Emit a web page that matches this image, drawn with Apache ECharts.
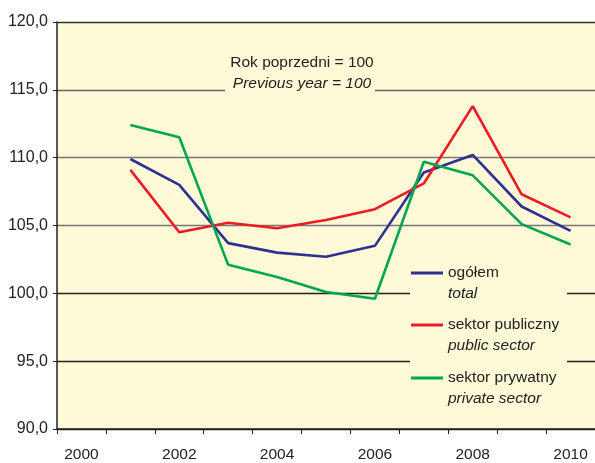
<!DOCTYPE html>
<html>
<head>
<meta charset="utf-8">
<script src="https://cdn.jsdelivr.net/npm/echarts@6/dist/echarts.min.js"></script>
<style>
  html, body { margin: 0; padding: 0; background: #ffffff; }
  #chart { width: 595px; height: 463px; }
</style>
</head>
<body>
<div id="chart"></div>
<script>
// Dynamika: rok poprzedni = 100
const years = ['2000', '2001', '2002', '2003', '2004', '2005', '2006', '2007', '2008', '2009', '2010'];
const total   = [null, 109.9, 108.0, 103.7, 103.0, 102.7, 103.5, 108.9, 110.2, 106.4, 104.6];
const publicS = [null, 109.1, 104.5, 105.2, 104.8, 105.4, 106.2, 108.1, 113.8, 107.3, 105.6];
const privateS = [null, 112.4, 111.5, 102.1, 101.2, 100.1, 99.6, 109.7, 108.7, 105.1, 103.6];
const namesPl = ['ogółem', 'sektor publiczny', 'sektor prywatny'];
const namesEn = ['total', 'public sector', 'private sector'];
const colors = ['#2e3192', '#ed1c24', '#00a651'];

const plotBg = '#fef9d6';
const font = "'Liberation Sans', Arial, sans-serif";

const chart = echarts.init(document.getElementById('chart'), null, { renderer: 'canvas' });

const seriesData = [total, publicS, privateS];
const legendTop = [265, 317, 370];

chart.setOption({
  animation: false,
  backgroundColor: '#ffffff',
  textStyle: { fontFamily: font },
  grid: { left: 57, right: 0, top: 22, bottom: 33, show: true, backgroundColor: plotBg, borderWidth: 0 },
  xAxis: {
    type: 'category',
    data: years,
    boundaryGap: true,
    axisLine: { lineStyle: { color: '#222', width: 1.5 } },
    axisTick: { show: true, interval: 0, length: 5, lineStyle: { color: '#222' } },
    axisLabel: { interval: 1, margin: 18, fontSize: 15.5, color: '#222', fontFamily: font },
    splitLine: { show: false }
  },
  yAxis: {
    type: 'value',
    min: 90, max: 120, interval: 5,
    axisLine: { show: true, lineStyle: { color: '#222', width: 1.5 } },
    axisTick: { show: true, length: 4, lineStyle: { color: '#222' } },
    axisLabel: {
      margin: 9, fontSize: 16, color: '#222', fontFamily: font,
      formatter: v => v.toFixed(1).replace('.', ',')
    },
    splitLine: {
      show: true,
      lineStyle: { width: 1.3, color: ['#222', '#222', '#222', '#777', '#777', '#666', '#333'] }
    }
  },
  legend: namesPl.map((n, i) => ({
    data: [n],
    left: 411,
    top: legendTop[i],
    padding: 0,
    orient: 'vertical',
    icon: 'rect',
    itemWidth: 32,
    itemHeight: 3,
    selectedMode: false,
    formatter: name => '{a|' + name + '}\n{b|' + namesEn[i] + '}',
    textStyle: {
      padding: [21, 0, 0, 0],
      rich: {
        a: { fontSize: 15.5, lineHeight: 21, color: '#222', fontFamily: font },
        b: { fontSize: 15.5, lineHeight: 21, color: '#222', fontFamily: font, fontStyle: 'italic' }
      }
    }
  })),
  graphic: [
    {
      type: 'rect', z: 1, silent: true,
      shape: { x: 410, y: 256, width: 157, height: 156 },
      style: { fill: plotBg }
    },
    {
      type: 'rect', z: 1, silent: true,
      shape: { x: 225, y: 50, width: 150, height: 46 },
      style: { fill: plotBg }
    },
    {
      type: 'text', z: 2, silent: true,
      style: { text: 'Rok poprzedni = 100', x: 302, y: 63, align: 'center', verticalAlign: 'middle',
               font: '15.5px ' + font, fill: '#222' }
    },
    {
      type: 'text', z: 2, silent: true,
      style: { text: 'Previous year = 100', x: 302, y: 84, align: 'center', verticalAlign: 'middle',
               font: 'italic 15.5px ' + font, fill: '#222' }
    }
  ],
  series: namesPl.map((n, i) => ({
    name: n,
    type: 'line',
    data: seriesData[i],
    showSymbol: false,
    symbol: 'none',
    lineStyle: { color: colors[i], width: 2.6 },
    itemStyle: { color: colors[i] },
    z: 3
  }))
});
</script>
</body>
</html>
